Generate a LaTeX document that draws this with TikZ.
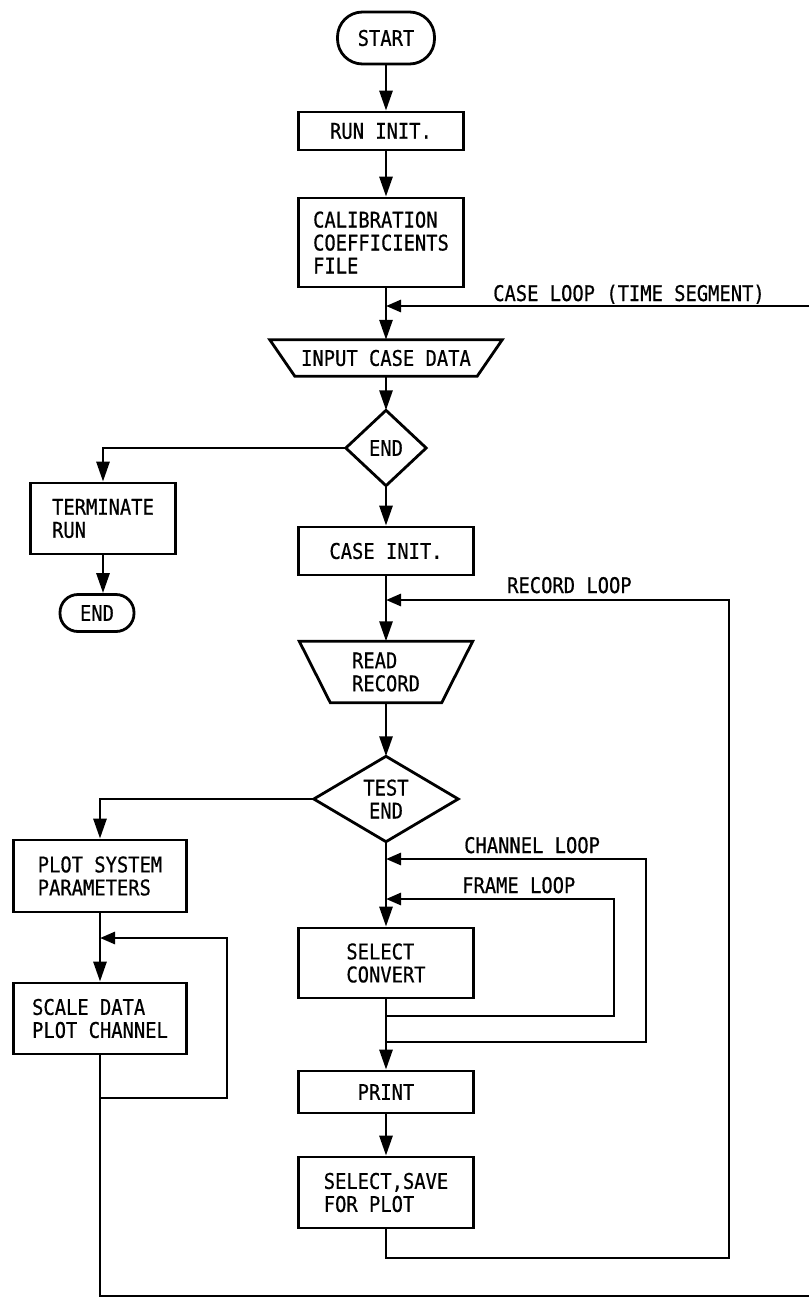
\documentclass[tikz,border=0pt]{standalone}
\usepackage{fontspec}
\newfontfamily\flowfont[FakeStretch=0.87, FakeBold=0.6]{DejaVu Sans Mono}
\usetikzlibrary{arrows.meta}

\tikzset{
  flowline/.style={line width=2.8pt, line join=miter},
  flowarrow/.style={flowline, -{Triangle[length=20pt, width=13pt]}},
  looparrow/.style={flowline, -{Triangle[length=15pt, width=12pt]}},
  txt/.style={font=\flowfont\fontsize{21.6}{23}\selectfont, inner sep=0pt, align=left},
  procbox/.style={txt, draw, line width=2.8pt, minimum width=175pt},
  terminal/.style={txt, draw, line width=2.8pt, rounded corners=18pt},
  shapebox/.style={txt},
  looplabel/.style={font=\flowfont\fontsize{21.6}{23}\selectfont, inner sep=0pt, anchor=base west}
}

\begin{document}
\begin{tikzpicture}[x=1pt, y=-1pt]
\useasboundingbox[fill=white] (0,0) rectangle (809,1300);

% main column
\node[terminal, minimum width=97pt, minimum height=52pt, rounded corners=25pt] (start) at (386,38) {START};
\node[procbox, minimum width=165pt, minimum height=38pt] (runinit) at (381,131) {RUN INIT.};
\node[procbox, minimum width=165pt, minimum height=89pt] (calib) at (381,242.5) {CALIBRATION\\COEFFICIENTS\\FILE};

% input case data (trapezoid, wide at top)
\node[shapebox, minimum width=232pt, minimum height=36pt] (input) at (386,358) {INPUT CASE DATA};
\draw[flowline] (input.north west) -- (input.north east) -- ([xshift=-25pt]input.south east)
  -- ([xshift=25pt]input.south west) -- cycle;

% end decision
\node[shapebox, minimum width=80pt, minimum height=75pt, align=center] (enddec) at (386,448) {END};
\draw[flowline] (enddec.north) -- (enddec.east) -- (enddec.south) -- (enddec.west) -- cycle;

\node[procbox, minimum height=48pt] (caseinit) at (386,551) {CASE INIT.};

% read record (trapezoid, wide at top)
\node[shapebox, minimum width=173pt, minimum height=61pt] (readrec) at (386,672) {READ\\RECORD};
\draw[flowline] (readrec.north west) -- (readrec.north east) -- ([xshift=-31pt]readrec.south east)
  -- ([xshift=31pt]readrec.south west) -- cycle;

% test end decision
\node[shapebox, minimum width=144pt, minimum height=85pt, align=center] (testend) at (386,799) {TEST\\END};
\draw[flowline] (testend.north) -- (testend.east) -- (testend.south) -- (testend.west) -- cycle;

\node[procbox, minimum height=70pt] (convert) at (386,963) {SELECT\\CONVERT};
\node[procbox, minimum height=42pt] (print) at (386,1092) {PRINT};
\node[procbox, minimum height=71pt] (savesel) at (386,1192.5) {SELECT,SAVE\\FOR PLOT};

% left branches
\node[procbox, minimum width=145pt, minimum height=71pt] (term) at (103,518.5) {TERMINATE\\RUN};
\node[terminal, minimum width=74pt, minimum height=37pt] (endterm) at (97,613) {END};
\node[procbox, minimum width=173pt, minimum height=72pt] (plotsys) at (100,876) {PLOT SYSTEM\\PARAMETERS};
\node[procbox, minimum width=173pt, minimum height=71pt] (scale) at (100,1018.5) {SCALE DATA\\PLOT CHANNEL};

% free ends of the case loop
\coordinate (caseout) at (809,1296);
\coordinate (casein) at (809,306);

% straight flow
\draw[flowarrow] (start.south) -- (start.south |- runinit.north);
\draw[flowarrow] (start.south |- runinit.south) -- (start.south |- calib.north);
\draw[flowarrow] (start.south |- calib.south) -- (input.north);
\draw[flowarrow] (input.south) -- (enddec.north);
\draw[flowarrow] (enddec.south) -- (caseinit.north);
\draw[flowarrow] (caseinit.south) -- (readrec.north);
\draw[flowarrow] (readrec.south) -- (testend.north);
\draw[flowarrow] (testend.south) -- (convert.north);
\draw[flowarrow] (convert.south) -- (print.north);
\draw[flowarrow] (print.south) -- (savesel.north);

\draw[flowarrow] (enddec.west) -| (term.north);
\draw[flowarrow] (term.south) -- (term.south |- endterm.north);
\draw[flowarrow] (testend.west) -| (plotsys.north);
\draw[flowarrow] (plotsys.south) -- (scale.north);

% case loop
\draw[looparrow] (casein) -- (casein -| input.north);
\node[looplabel] (caselbl) at (493,301) {CASE LOOP (TIME SEGMENT)};

% record loop
\draw[looparrow] (savesel.south) -- (386,1258) -- (729,1258) -- (729,600) -- (386,600);
\node[looplabel] (reclbl) at (507,593) {RECORD LOOP};

% channel loop
\draw[looparrow] (386,1042) -- (646,1042) -- (646,859) -- (386,859);
\node[looplabel] (chlbl) at (464,853) {CHANNEL LOOP};

% frame loop
\draw[looparrow] (386,1016) -- (614,1016) -- (614,899) -- (386,899);
\node[looplabel] (frlbl) at (462,893) {FRAME LOOP};

% plot channel loop
\draw[looparrow] (100,1098) -- (227,1098) -- (227,938) -- (100,938);

% exit towards the case loop
\draw[flowline] (scale.south) -- (scale.south |- caseout) -- (caseout);

\end{tikzpicture}
\end{document}
